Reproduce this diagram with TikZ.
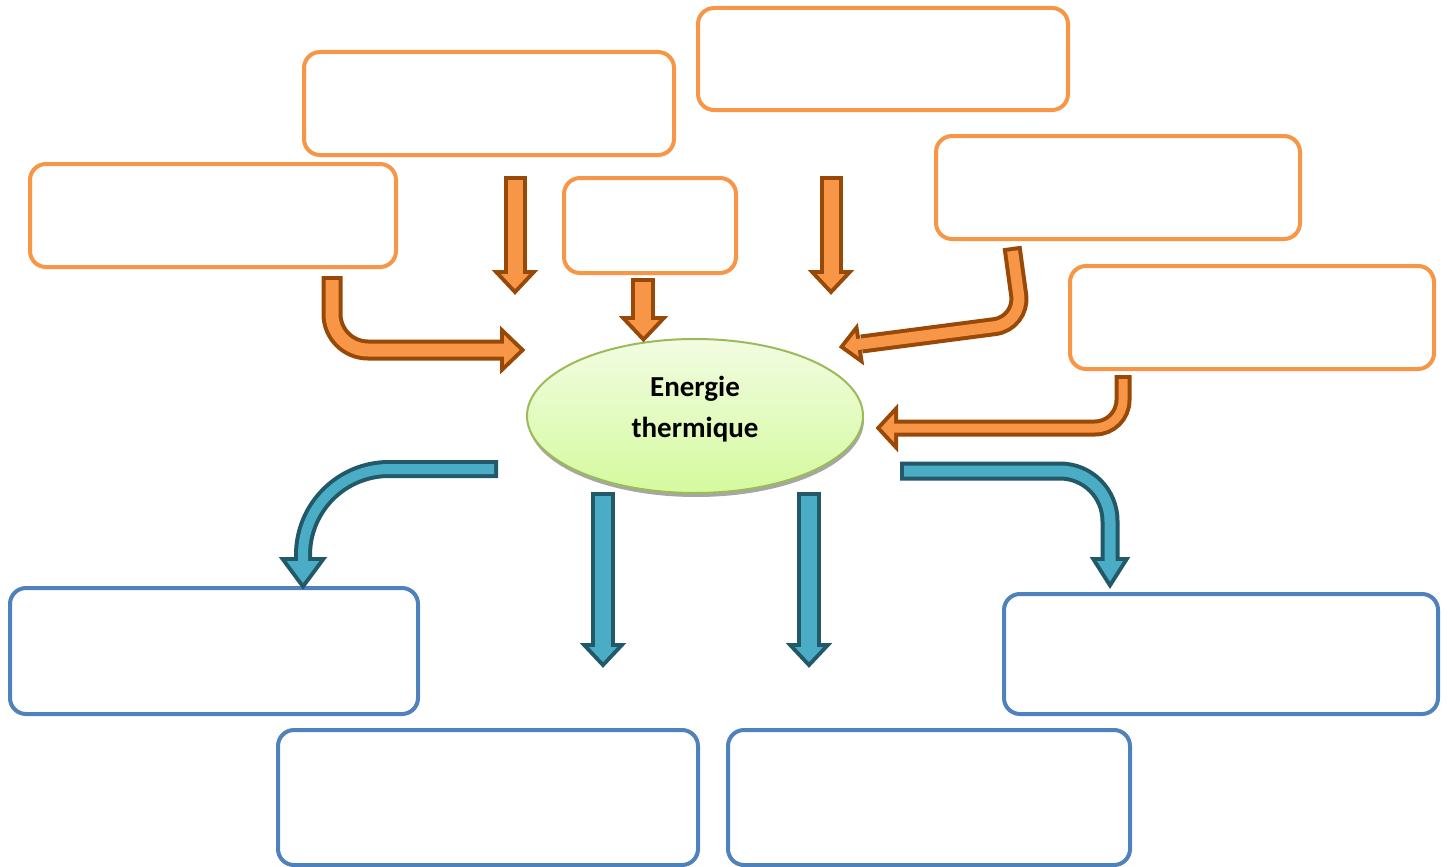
\documentclass[tikz,border=0pt]{standalone}
\usepackage{fontspec}
\setmainfont{Carlito}
\usetikzlibrary{shapes.geometric}
\definecolor{oline}{HTML}{F79646}
\definecolor{bline}{HTML}{4F81BD}
\definecolor{ofill}{HTML}{F79646}
\definecolor{odark}{HTML}{984807}
\definecolor{bfill}{HTML}{4BACC6}
\definecolor{bdark}{HTML}{215968}
\definecolor{egreen}{HTML}{9BBB59}
\definecolor{etop}{RGB}{242,252,226}
\definecolor{ebot}{RGB}{212,250,158}
\newcommand\fatarrow[5]{%
  \draw[#2, line width=#3pt, line cap=butt, shorten <=-4pt] #4;
  \filldraw[#2, line width=8pt, line join=miter] #5;
  \draw[#1, line width=#3pt-8pt, line cap=butt, shorten >=-6pt] #4;
  \fill[#1] #5;
}
\tikzset{
  obox/.style={draw=oline, line width=4pt, rounded corners=16pt, fill=white},
  bbox/.style={draw=bline, line width=4pt, rounded corners=16pt, fill=white},
}
\begin{document}
\begin{tikzpicture}[x=1pt,y=-1pt]
\useasboundingbox (0,0) rectangle (1448,867);
% orange boxes
\node[obox, minimum width=370pt, minimum height=103pt] (B1) at (489,103.5) {};
\node[obox, minimum width=370pt, minimum height=102pt] (B2) at (883,59) {};
\node[obox, minimum width=366pt, minimum height=103pt] (B3) at (213,215.5) {};
\node[obox, minimum width=172pt, minimum height=95pt] (B4) at (650,225.5) {};
\node[obox, minimum width=364pt, minimum height=103pt] (B5) at (1118,187.5) {};
\node[obox, minimum width=364pt, minimum height=103pt] (B6) at (1252,317.5) {};
% blue boxes
\node[bbox, minimum width=408pt, minimum height=126pt] (C1) at (214,651) {};
\node[bbox, minimum width=434pt, minimum height=120pt] (C2) at (1221,654) {};
\node[bbox, minimum width=420pt, minimum height=135pt] (C3) at (488,797.5) {};
\node[bbox, minimum width=402pt, minimum height=135pt] (C4) at (929,797.5) {};
% ellipse
\fill[gray!70] (696,420) ellipse [x radius=168pt, y radius=77pt];
\node[ellipse, draw=egreen, line width=2pt, top color=etop, bottom color=ebot,
      minimum width=336pt, minimum height=154pt, inner sep=0pt] (E) at (695,416) {};
\node[align=center, font=\bfseries\fontsize{29}{41}\selectfont] (ET) at (695,409) {Energie\\thermique};
% orange arrows
\fatarrow{ofill}{odark}{21}{[rounded corners=36pt] (332,280) |- (500,350)}{(504,335) -- (519.6,350) -- (504,365) -- cycle}
\fatarrow{ofill}{odark}{23}{(515,180) -- (515,270)}{(500.9,274) -- (529.1,274) -- (515,289) -- cycle}
\fatarrow{ofill}{odark}{24}{(643,282) -- (643,316)}{(627.9,320) -- (659.1,320) -- (643.5,336.5) -- cycle}
\fatarrow{ofill}{odark}{23}{(831,180) -- (831,270)}{(816.9,274) -- (845.1,274) -- (831,289) -- cycle}
\fatarrow{ofill}{odark}{19}{[rounded corners=28pt] (1012.6,251) -- (1022.5,323) -- (861.5,344)}{(855.2,332.7) -- (844.5,346.4) -- (858.8,356.7) -- cycle}
\fatarrow{ofill}{odark}{17}{[rounded corners=28pt] (1123,379) |- (898,428)}{(894,413.9) -- (881,428) -- (894,442.1) -- cycle}
% blue arrows
\fatarrow{bfill}{bdark}{18}{[rounded corners=86pt] (494,469) -| (303,557)}{(286.7,561) -- (319.3,561) -- (303,583) -- cycle}
\fatarrow{bfill}{bdark}{19}{[rounded corners=50pt] (904,471) -| (1110,557)}{(1097,561) -- (1123,561) -- (1110,581.5) -- cycle}
\fatarrow{bfill}{bdark}{24}{(603,496) -- (603,643)}{(588.9,647) -- (617.1,647) -- (603,662) -- cycle}
\fatarrow{bfill}{bdark}{24}{(809,496) -- (809,643)}{(794.9,647) -- (823.1,647) -- (809,662) -- cycle}
\end{tikzpicture}
\end{document}
